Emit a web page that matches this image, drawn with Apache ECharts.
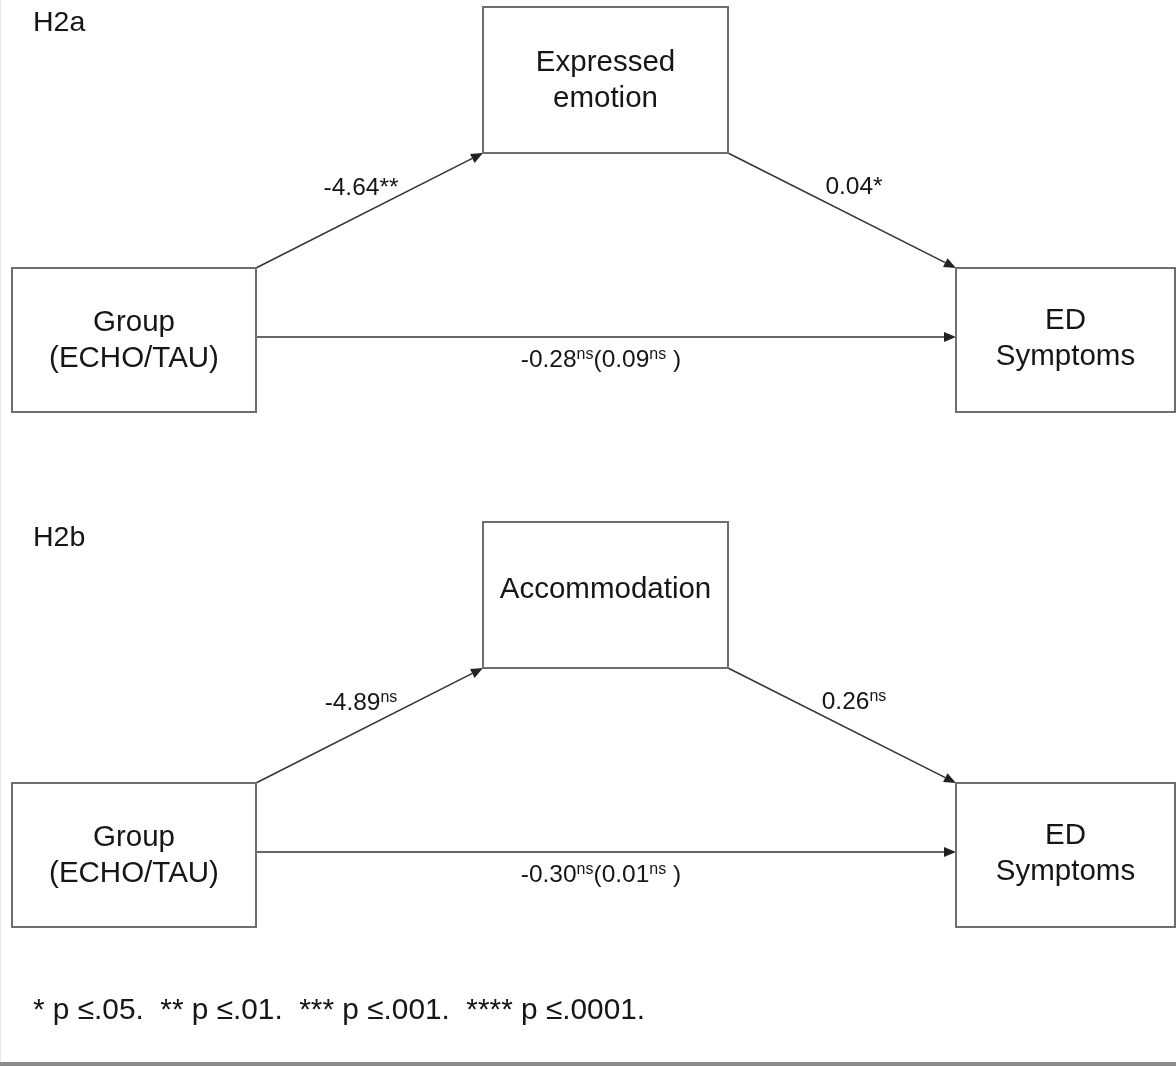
<!DOCTYPE html>
<html><head><meta charset="utf-8">
<script src="https://cdn.jsdelivr.net/npm/echarts@6/dist/echarts.min.js"></script>
<style>html,body{margin:0;padding:0;background:#fff}#c{width:1176px;height:1067px}</style>
</head><body><div id="c"></div>
<script>
// ---- data ----
const panels = ['H2a', 'H2b'];
const predictor = ['Group', '(ECHO/TAU)'];
const mediators = [['Expressed', 'emotion'], ['Accommodation']];
const outcome = ['ED', 'Symptoms'];
const pathA = [-4.64, -4.89];
const sigA = ['**', 'ns'];
const pathB = [0.04, 0.26];
const sigB = ['*', 'ns'];
const pathC = [-0.28, -0.30];
const sigC = ['ns', 'ns'];
const pathTotal = [0.09, 0.01];
const sigTotal = ['ns', 'ns'];
const footnote = '* p \u2264.05.  ** p \u2264.01.  *** p \u2264.001.  **** p \u2264.0001.';

// ---- layout (pixels in a 1176 x 1067 frame) ----
const W = 1176, H = 1067, DY = 515;
const LAY = {
  title: [33, 23],
  med: [483, 7, 728, 153],
  pred: [12, 268, 256, 412],
  out: [956, 268, 1175, 412],
  textDy: {med: [1, -5], pred: 1, out: -1},
  arrowY: 337,
  labA: [361, 188],
  labB: [854, 187],
  labC: [601, 360]
};
const FONT = "'Liberation Sans', Arial, Helvetica, sans-serif";
const TXT = '#161616';

function fmt(v, s) {
  return v.toFixed(2) + (s === 'ns' ? '{sup|ns}' : s);
}

const boxData = [], boxText = [], boxDy = [];
const arrowData = [];
const labelData = [], labelText = [];
const titleData = [], titleText = [];
panels.forEach((p, i) => {
  const o = i * DY;
  const m = LAY.med, pr = LAY.pred, ou = LAY.out;
  boxData.push([m[0], m[1] + o, m[2], m[3] + o]); boxText.push(mediators[i]); boxDy.push(LAY.textDy.med[i]);
  boxData.push([pr[0], pr[1] + o, pr[2], pr[3] + o]); boxText.push(predictor); boxDy.push(LAY.textDy.pred);
  boxData.push([ou[0], ou[1] + o, ou[2], ou[3] + o]); boxText.push(outcome); boxDy.push(LAY.textDy.out);
  arrowData.push([pr[2], pr[1] + o, m[0], m[3] + o]);
  arrowData.push([m[2], m[3] + o, ou[0], ou[1] + o]);
  arrowData.push([pr[2], LAY.arrowY + o, ou[0], LAY.arrowY + o]);
  labelData.push([LAY.labA[0], LAY.labA[1] + o]); labelText.push(fmt(pathA[i], sigA[i]));
  labelData.push([LAY.labB[0], LAY.labB[1] + o]); labelText.push(fmt(pathB[i], sigB[i]));
  labelData.push([LAY.labC[0], LAY.labC[1] + o]);
  labelText.push(fmt(pathC[i], sigC[i]) + '(' + fmt(pathTotal[i], sigTotal[i]) + ' )');
  titleData.push([LAY.title[0], LAY.title[1] + o]); titleText.push(p);
});

const chart = echarts.init(document.getElementById('c'), null, {renderer: 'canvas'});
chart.setOption({
  animation: false,
  backgroundColor: '#fff',
  grid: {left: 0, right: 0, top: 0, bottom: 0},
  xAxis: {type: 'value', min: 0, max: W, show: false},
  yAxis: {type: 'value', min: 0, max: H, inverse: true, show: false},
  series: [
    {
      type: 'custom', silent: true, data: arrowData,
      renderItem: (p, api) => {
        const a = api.coord([api.value(0), api.value(1)]);
        const b = api.coord([api.value(2), api.value(3)]);
        const dx = b[0] - a[0], dy = b[1] - a[1], len = Math.hypot(dx, dy);
        const ux = dx / len, uy = dy / len, hl = 12, hw = 5;
        const bx = b[0] - ux * hl, by = b[1] - uy * hl;
        return {type: 'group', children: [
          {type: 'line', shape: {x1: a[0], y1: a[1], x2: bx, y2: by}, style: {stroke: '#333', lineWidth: 1.5}},
          {type: 'polygon', shape: {points: [[b[0], b[1]], [bx - uy * hw, by + ux * hw], [bx + uy * hw, by - ux * hw]]}, style: {fill: '#222'}}
        ]};
      }
    },
    {
      type: 'custom', silent: true, data: boxData,
      renderItem: (p, api) => {
        const a = api.coord([api.value(0), api.value(1)]);
        const b = api.coord([api.value(2), api.value(3)]);
        return {type: 'group', children: [
          {type: 'rect', shape: {x: a[0], y: a[1], width: b[0] - a[0], height: b[1] - a[1]},
           style: {fill: 'rgba(0,0,0,0)', stroke: '#6e6e6e', lineWidth: 2}},
          {type: 'text', style: {text: boxText[p.dataIndex].join('\n'), x: (a[0] + b[0]) / 2, y: (a[1] + b[1]) / 2 + boxDy[p.dataIndex],
            align: 'center', verticalAlign: 'middle', fontSize: 29.5, lineHeight: 36, fontFamily: FONT, fill: TXT}}
        ]};
      }
    },
    {
      type: 'custom', silent: true, data: labelData,
      renderItem: (p, api) => {
        const a = api.coord([api.value(0), api.value(1)]);
        return {type: 'text', style: {text: labelText[p.dataIndex], x: a[0], y: a[1], align: 'center', verticalAlign: 'middle',
          fontSize: 24.5, fontFamily: FONT, fill: TXT,
          rich: {sup: {fontSize: 16, fontFamily: FONT, fill: TXT, verticalAlign: 'top', lineHeight: 26}}}};
      }
    },
    {
      type: 'custom', silent: true, data: titleData,
      renderItem: (p, api) => {
        const a = api.coord([api.value(0), api.value(1)]);
        return {type: 'text', style: {text: titleText[p.dataIndex], x: a[0], y: a[1], align: 'left', verticalAlign: 'middle',
          fontSize: 28.5, fontFamily: FONT, fill: TXT}};
      }
    }
  ],
  graphic: [
    {type: 'text', left: 33, top: 996, style: {text: footnote, fontSize: 29.8, fontFamily: FONT, fill: TXT}},
    {type: 'rect', left: 0, top: 1062, shape: {width: W, height: 4}, style: {fill: '#8c8c8c'}},
    {type: 'rect', left: 0, top: 0, shape: {width: 1, height: 1062}, style: {fill: '#e6e6e6'}}
  ]
});
</script>
</body></html>
